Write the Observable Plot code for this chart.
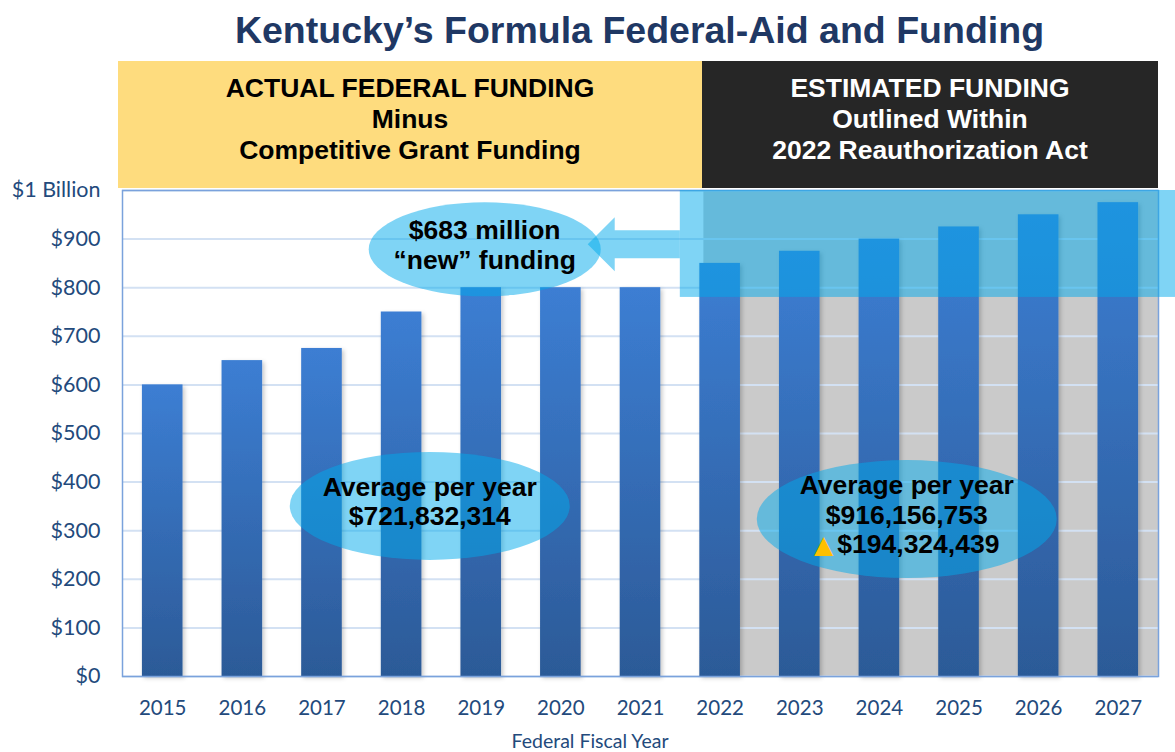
<!DOCTYPE html>
<html>
<head>
<meta charset="utf-8">
<script src="https://cdn.jsdelivr.net/npm/d3@7"></script>
<script src="https://cdn.jsdelivr.net/npm/@observablehq/plot@0.6"></script>
<style>
  body { margin: 0; background: #fff; }
  #wrap { position: relative; width: 1175px; height: 752px; overflow: hidden; font-family: "Liberation Sans", Arial, sans-serif; }
  #wrap svg { position: absolute; left: 0; top: 0; }
  #title { position: absolute; left: 52px; top: 10px; width: 1175px; text-align: center; font-weight: bold; font-size: 37.5px; line-height: 40px; color: #1f3864; white-space: nowrap; }
  .hdr { position: absolute; top: 61px; height: 127px; box-sizing: border-box; padding-top: 12px; text-align: center; font-weight: bold; font-size: 26.5px; line-height: 31px; }
  #hdrA { left: 118px; width: 584px; background: #fedc7e; color: #000; }
  #hdrB { left: 702px; width: 456px; background: #262626; color: #fff; }
  #xlabel { position: absolute; left: 440px; width: 300px; top: 729px; text-align: center; font-family: Lato, sans-serif; font-size: 19.5px; color: #234a7c; }
</style>
</head>
<body>
<div id="wrap">
  <div id="title"></div>
  <div class="hdr" id="hdrA"></div>
  <div class="hdr" id="hdrB"></div>
  <div id="xlabel"></div>
</div>
<script>
// ---------------- data ----------------
const years = ["2015","2016","2017","2018","2019","2020","2021","2022","2023","2024","2025","2026","2027"];
const funding = [600, 650, 675, 750, 800, 800, 800, 850, 875, 900, 925, 950, 975]; // $ millions
const yTicks = [0, 100, 200, 300, 400, 500, 600, 700, 800, 900, 1000];
const actualYears = years.slice(0, 7);
const estimatedYears = years.slice(7);
const highlightRange = [780, 1000]; // $ millions, band behind new funding

const titleText = "Kentucky’s Formula Federal-Aid and Funding";
const headerActual = ["ACTUAL FEDERAL FUNDING", "Minus", "Competitive Grant Funding"];
const headerEstimated = ["ESTIMATED FUNDING", "Outlined Within", "2022 Reauthorization Act"];
const xAxisLabel = "Federal Fiscal Year";

const calloutYears = ["2019", "2018", "2024"];
const calloutShift = [0.05, 0.36, 0.35];   // fraction of a band step from the year's centre
const calloutValues = [878, 350, 323];     // $ millions at ellipse centre
const calloutLines = [
  ["$683 million", "“new” funding"],
  ["Average per year", "$721,832,314"],
  ["Average per year", "$916,156,753", "▲$194,324,439"]
];

// ---------------- styles ----------------
const BLUE = "#00aaeb";
const calloutRadii = [[116, 47], [140, 54], [150, 59]];
const W = 1175, H = 752, ML = 122, MR = 17, MT = 190, MB = 76;
const AXIS_COLOR = "#234a7c";

const rows = years.map((year, i) => ({year, value: funding[i]}));

document.getElementById("title").textContent = titleText;
document.getElementById("hdrA").innerHTML = headerActual.join("<br>");
document.getElementById("hdrB").innerHTML = headerEstimated.join("<br>");
document.getElementById("xlabel").textContent = xAxisLabel;

const chart = Plot.plot({
  width: W,
  height: H,
  marginLeft: ML,
  marginRight: MR,
  marginTop: MT,
  marginBottom: MB,
  style: {fontFamily: "Lato, sans-serif", fontSize: "20px", color: AXIS_COLOR, background: "transparent", overflow: "visible"},
  x: {domain: years, paddingInner: 0.49, paddingOuter: 0.25, round: false, label: null},
  y: {domain: [0, 1000], label: null},
  marks: [
    Plot.gridY(yTicks, {stroke: "#d3e1f3", strokeOpacity: 1, strokeWidth: 2}),
    Plot.barY(rows, {x: "year", y: "value", fill: "url(#barGrad)"}),
    Plot.frame({stroke: "#7aa2dc", strokeWidth: 1.5}),
    Plot.axisY(yTicks, {tickSize: 0, tickPadding: 22, fontSize: 21.5, fill: AXIS_COLOR,
      tickFormat: d => d === 1000 ? "$1 Billion" : "$" + d}),
    Plot.axisX({tickSize: 0, tickPadding: 24, fontSize: 20.5, fill: AXIS_COLOR})
  ]
});

const xs = chart.scale("x"), ys = chart.scale("y");
const X = v => xs.apply(v), Y = v => ys.apply(v);
const step = xs.step != null ? xs.step : X(years[1]) - X(years[0]);
const bw = xs.bandwidth != null ? xs.bandwidth : step * 0.51;

const svg = d3.select(chart);
const defs = svg.insert("defs", ":first-child");
const grad = defs.append("linearGradient").attr("id", "barGrad").attr("x1", 0).attr("y1", 0).attr("x2", 0).attr("y2", 1);
grad.append("stop").attr("offset", "0%").attr("stop-color", "#3c7ed3");
grad.append("stop").attr("offset", "100%").attr("stop-color", "#2c5a97");
const f = defs.append("filter").attr("id", "shadow").attr("x", "-20%").attr("y", "-5%").attr("width", "150%").attr("height", "115%");
f.append("feDropShadow").attr("dx", 2).attr("dy", 2).attr("stdDeviation", 2).attr("flood-color", "#000").attr("flood-opacity", 0.22);
svg.selectAll("g[aria-label='bar'] rect").attr("filter", "url(#shadow)");

// grey shading behind estimated years (inserted beneath the grid)
const gridNode = svg.select("g[aria-label='y-grid']").node();
const shade = d3.create("svg:rect")
  .attr("x", X(estimatedYears[0]) + bw * 0.1)
  .attr("y", Y(1000))
  .attr("width", (W - MR) - (X(estimatedYears[0]) + bw * 0.1))
  .attr("height", Y(0) - Y(1000))
  .attr("fill", "#cacaca");
if (gridNode) chart.insertBefore(shade.node(), gridNode);
else chart.insertBefore(shade.node(), defs.node().nextSibling);

// overlays
const g = svg.append("g").attr("aria-label", "annotations");
const bandLeft = (X(actualYears[actualYears.length - 1]) + bw + X(estimatedYears[0])) / 2;
g.append("rect")
  .attr("x", bandLeft).attr("y", Y(highlightRange[1]))
  .attr("width", W - bandLeft)
  .attr("height", Y(highlightRange[0]) - Y(highlightRange[1]))
  .attr("fill", BLUE).attr("fill-opacity", 0.5);

calloutYears.forEach((yr, i) => {
  const cx = X(yr) + bw / 2 + calloutShift[i] * step;
  const cy = Y(calloutValues[i]);
  const [rx, ry] = calloutRadii[i];
  if (i === 0) {
    const ay = cy - 5;
    const tip = cx + rx - 13;
    const head = tip + 27;
    const pts = [[bandLeft, ay - 14], [head, ay - 14], [head, ay - 27], [tip, ay], [head, ay + 27], [head, ay + 14], [bandLeft, ay + 14]];
    g.append("polygon").attr("points", pts.map(p => p.join(",")).join(" "))
      .attr("fill", BLUE).attr("fill-opacity", 0.5);
  }
  g.append("ellipse").attr("cx", cx).attr("cy", cy).attr("rx", rx).attr("ry", ry)
    .attr("fill", BLUE).attr("fill-opacity", 0.5);
  const lines = calloutLines[i];
  const lh = 29.5;
  const top = cy - 5 - (lines.length - 1) * lh / 2;
  lines.forEach((line, j) => {
    const t = g.append("text")
      .attr("x", cx).attr("y", top + j * lh).attr("dy", "0.36em")
      .attr("text-anchor", "middle")
      .attr("font-family", "Liberation Sans, Arial, sans-serif")
      .attr("font-weight", "bold").attr("font-size", 26.5).attr("fill", "#000");
    if (line.startsWith("▲")) {
      t.append("tspan").attr("fill", "#ffc000").attr("font-family", "DejaVu Sans, sans-serif").attr("font-size", 25).text("▲");
      t.append("tspan").attr("dx", 4).text(line.slice(1));
    } else {
      t.text(line);
    }
  });
});

document.getElementById("wrap").insertBefore(chart, document.getElementById("wrap").firstChild);
</script>
</body>
</html>
